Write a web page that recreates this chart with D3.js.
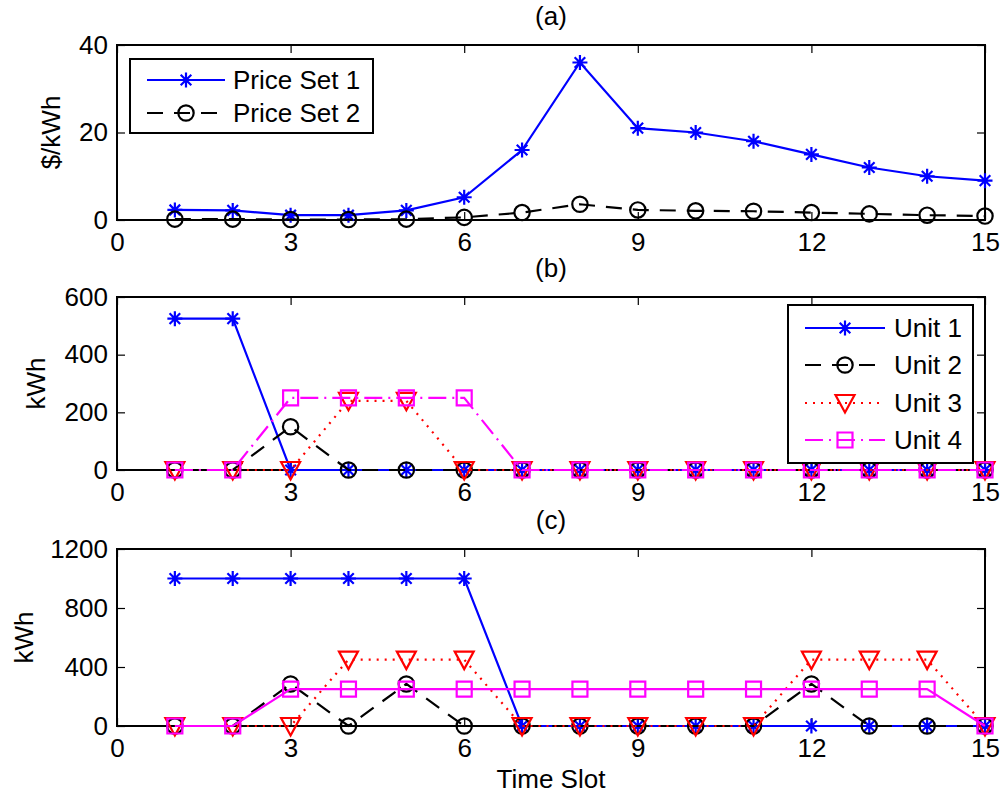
<!DOCTYPE html>
<html>
<head>
<meta charset="utf-8">
<script src="https://cdn.jsdelivr.net/npm/d3@7"></script>
<style>
  body { margin: 0; background: #fff; }
  text { font-family: "Liberation Sans", Arial, sans-serif; fill: #000; }
</style>
</head>
<body>
<div id="chart"></div>
<script>
var slots = [1,2,3,4,5,6,7,8,9,10,11,12,13,14,15];
var xTicks = [0,3,6,9,12,15];

// (a) prices
var priceSet1 = [2.3,2.2,1.1,1.1,2.2,5.2,16,36,21,20,18,15,12,10,9];
var priceSet2 = [0.2,0.2,0.1,0.1,0.2,0.6,1.7,3.6,2.3,2.1,2.0,1.7,1.4,1.1,0.9];
var yTicksA = [0,20,40];

// (b) units
var unit1B = [525,525,0,0,0,0,0,0,0,0,0,0,0,0,0];
var unit2B = [0,0,150,0,0,0,0,0,0,0,0,0,0,0,0];
var unit3B = [0,0,0,240,240,0,0,0,0,0,0,0,0,0,0];
var unit4B = [0,0,250,250,250,250,0,0,0,0,0,0,0,0,0];
var yTicksB = [0,200,400,600];

// (c) units
var unit1C = [1000,1000,1000,1000,1000,1000,0,0,0,0,0,0,0,0,0];
var unit2C = [0,0,285,0,285,0,0,0,0,0,0,285,0,0,0];
var unit3C = [0,0,0,450,450,450,0,0,0,0,0,450,450,450,0];
var unit4C = [0,0,250,250,250,250,250,250,250,250,250,250,250,250,0];
var yTicksC = [0,400,800,1200];

var width = 1005, height = 798;
var left = 117, right = 985;
var fontSize = "26px";

var svg = d3.select("#chart").append("svg")
  .attr("width", width)
  .attr("height", height);

var x = d3.scaleLinear().domain([0, 15]).range([left, right]);

var styles = {
  u1: { color: "#0000ff", dash: null, marker: "star" },
  u2: { color: "#000000", dash: "16,11", marker: "circle" },
  u3: { color: "#ff0000", dash: "2,6", marker: "tri" },
  u4: { color: "#ff00ff", dash: "18,6,2,6", marker: "square" },
  u4solid: { color: "#ff00ff", dash: null, marker: "square" }
};

function markerPath(type) {
  if (type === "star") {
    var r = 7.5, d = 5.3;
    return "M0,-" + r + "V" + r + "M-" + r + ",0H" + r +
      "M-" + d + ",-" + d + "L" + d + "," + d + "M-" + d + "," + d + "L" + d + ",-" + d;
  }
  if (type === "circle") return d3.symbol(d3.symbolCircle, 185)();
  if (type === "tri") return "M-9.5,-8L9.5,-8L0,9.5Z";
  return "M-7.5,-7.5H7.5V7.5H-7.5Z";
}

function drawMarker(g, type, color, cx, cy) {
  g.append("path")
    .attr("d", markerPath(type))
    .attr("transform", "translate(" + cx + "," + cy + ")")
    .attr("fill", "none")
    .attr("stroke", color)
    .attr("stroke-width", 2.2);
}

function panel(top, bottom, yMax, yTicks, title, ylabel, ylabelX, series) {
  var y = d3.scaleLinear().domain([0, yMax]).range([bottom, top]);
  var g = svg.append("g");

  g.append("g")
    .attr("transform", "translate(0," + bottom + ")")
    .call(d3.axisBottom(x).tickValues(xTicks).tickSize(-8).tickSizeOuter(0).tickPadding(13))
    .call(a => a.select(".domain").remove());
  g.append("g")
    .attr("transform", "translate(0," + top + ")")
    .call(d3.axisTop(x).tickValues(xTicks).tickSize(-8).tickSizeOuter(0).tickFormat(""))
    .call(a => a.select(".domain").remove());
  g.append("g")
    .attr("transform", "translate(" + left + ",0)")
    .call(d3.axisLeft(y).tickValues(yTicks).tickSize(-8).tickSizeOuter(0).tickPadding(9).tickFormat(d3.format("d")))
    .call(a => a.select(".domain").remove());
  g.append("g")
    .attr("transform", "translate(" + right + ",0)")
    .call(d3.axisRight(y).tickValues(yTicks).tickSize(-8).tickSizeOuter(0).tickFormat(""))
    .call(a => a.select(".domain").remove());

  g.selectAll(".tick line").attr("stroke", "#000").attr("stroke-width", 1.2);
  g.selectAll(".tick text").style("font-size", fontSize).attr("fill", "#000");

  g.append("rect")
    .attr("x", left).attr("y", top)
    .attr("width", right - left).attr("height", bottom - top)
    .attr("fill", "none").attr("stroke", "#000").attr("stroke-width", 2);

  g.append("text")
    .attr("x", (left + right) / 2)
    .attr("y", top - 20)
    .attr("text-anchor", "middle")
    .style("font-size", fontSize)
    .text(title);

  g.append("text")
    .attr("transform", "translate(" + ylabelX + "," + ((top + bottom) / 2) + ") rotate(-90)")
    .attr("text-anchor", "middle")
    .style("font-size", fontSize)
    .text(ylabel);

  var line = d3.line().x((d, i) => x(slots[i])).y(d => y(d));

  series.forEach(s => {
    var st = styles[s.style];
    g.append("path")
      .datum(s.values)
      .attr("d", line)
      .attr("fill", "none")
      .attr("stroke", st.color)
      .attr("stroke-width", 2.2)
      .attr("stroke-dasharray", st.dash);
    s.values.forEach((v, i) => drawMarker(g, st.marker, st.color, x(slots[i]), y(v)));
  });
  return g;
}

function legend(g, bx, by, bw, bh, rowY, sx0, sx1, tx, items) {
  g.append("rect")
    .attr("x", bx).attr("y", by)
    .attr("width", bw).attr("height", bh)
    .attr("fill", "#fff").attr("stroke", "#000").attr("stroke-width", 2);
  items.forEach((it, i) => {
    var st = styles[it.style];
    var ry = rowY[i];
    g.append("line")
      .attr("x1", sx0).attr("x2", sx1)
      .attr("y1", ry).attr("y2", ry)
      .attr("stroke", st.color)
      .attr("stroke-width", 2.2)
      .attr("stroke-dasharray", st.dash);
    drawMarker(g, st.marker, st.color, (sx0 + sx1) / 2, ry);
    g.append("text")
      .attr("x", tx).attr("y", ry)
      .attr("dy", "0.36em")
      .style("font-size", fontSize)
      .text(it.label);
  });
}

var gA = panel(45, 220, 40, yTicksA, "(a)", "$/kWh", 60, [
  { values: priceSet1, style: "u1" },
  { values: priceSet2, style: "u2" }
]);
legend(gA, 130, 59, 243, 74, [80, 113], 147, 225, 233, [
  { label: "Price Set 1", style: "u1" },
  { label: "Price Set 2", style: "u2" }
]);

var gB = panel(297, 470, 600, yTicksB, "(b)", "kWh", 45, [
  { values: unit1B, style: "u1" },
  { values: unit2B, style: "u2" },
  { values: unit3B, style: "u3" },
  { values: unit4B, style: "u4" }
]);
legend(gB, 788, 305, 185, 158, [328, 365, 403, 440], 805, 885, 894, [
  { label: "Unit 1", style: "u1" },
  { label: "Unit 2", style: "u2" },
  { label: "Unit 3", style: "u3" },
  { label: "Unit 4", style: "u4" }
]);

panel(549, 726, 1200, yTicksC, "(c)", "kWh", 33, [
  { values: unit1C, style: "u1" },
  { values: unit2C, style: "u2" },
  { values: unit3C, style: "u3" },
  { values: unit4C, style: "u4solid" }
]);

svg.append("text")
  .attr("x", (left + right) / 2)
  .attr("y", 788)
  .attr("text-anchor", "middle")
  .style("font-size", fontSize)
  .text("Time Slot");
</script>
</body>
</html>
